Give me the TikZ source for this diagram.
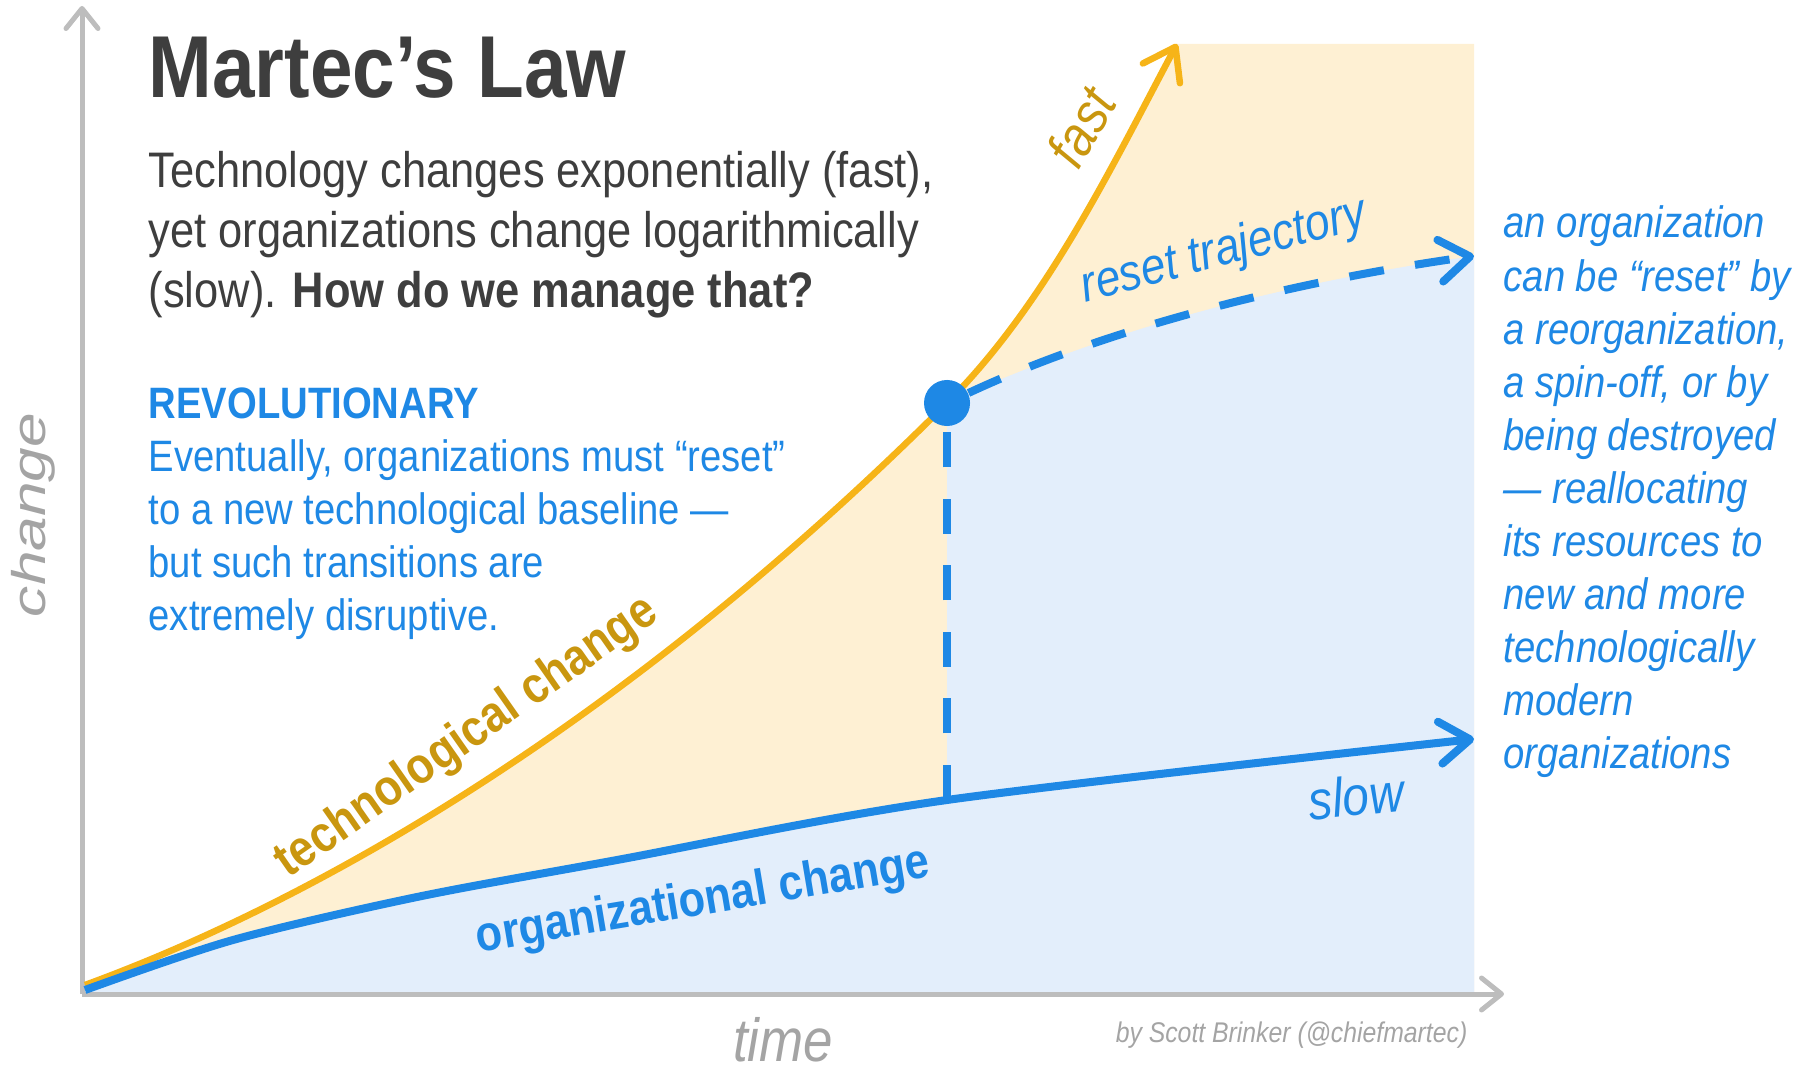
\documentclass[tikz,border=0pt]{standalone}
\usepackage{fontspec}
\setmainfont{Liberation Sans}[FakeStretch=0.87]
\newfontfamily\widefont{Liberation Sans}[FakeStretch=1.32]
\usetikzlibrary{arrows.meta}
\definecolor{axisgray}{HTML}{BDBDBD}
\definecolor{labelgray}{HTML}{A4A4A4}
\definecolor{textgray}{HTML}{3E3E3E}
\definecolor{techorange}{HTML}{F6B418}
\definecolor{techgold}{HTML}{C9960F}
\definecolor{orgblue}{HTML}{1E88E5}
\definecolor{techfill}{HTML}{FEF0D3}
\definecolor{orgfill}{HTML}{E3EEFB}
\begin{document}
\begin{tikzpicture}[x=0.01cm,y=-0.01cm,
		axisline/.style={draw=axisgray,line width=0.05cm,-{Straight Barb[length=0.2cm,width=0.32cm,round]}},
		curvetip/.style={-{Straight Barb[length=0.3cm,width=0.42cm,round]}},
		techline/.style={draw=techorange,line width=0.065cm,curvetip},
		orgline/.style={draw=orgblue,line width=0.08cm,curvetip},
		resetline/.style={draw=orgblue,line width=0.08cm,dash pattern=on 0.35cm off 0.315cm},
		txt/.style={inner sep=0pt,anchor=base west,align=left}]
	\useasboundingbox (0,0) rectangle (1810,1071);
	\coordinate (O) at (82,994);
	\coordinate (ytop) at (82,6);
	\coordinate (xend) at (1504,994);
	\coordinate (techstart) at (85,985);
	\coordinate (techend) at (1177,44);
	\coordinate (orgfoot) at (947,800);
	\coordinate (resetend) at (1474,256);
	\fill[techfill] (techstart) .. controls (320,899) and (629,721) .. (947,403) .. controls (1046,304) and (1111,168) .. (techend)
		-- (1474,44) -- (1474,994) -- (85,994) -- cycle;
	\fill[orgfill] plot[smooth] coordinates {(85,990) (233,940) (417,897) (617,860) (947,800) (1474,739)}
		-- (1474,994) -- (85,994) -- cycle;
	\fill[orgfill] (947,403) .. controls (1110,327) and (1296,281) .. (1474,256) -- (1474,994) -- (947,994) -- cycle;
	\draw[axisline] (O) -- (ytop);
	\draw[axisline] (O) -- (xend);
	\draw[techline] (techstart) .. controls (320,899) and (629,721) .. (947,403) .. controls (1046,304) and (1111,168) .. (techend);
	\draw[orgline] plot[smooth] coordinates {(85,990) (233,940) (417,897) (617,860) (947,800) (1474,739)};
	\node[circle,fill=orgblue,minimum size=0.46cm,inner sep=0pt] (dot) at (947,403) {};
	\draw[resetline] (orgfoot) -- (dot);
	\draw[resetline,curvetip] (dot) .. controls (1110,327) and (1296,281) .. (resetend);
	\node[txt,text=textgray,font=\fontsize{25}{30}\selectfont\bfseries] (title) at (148,98) {Martec’s Law};
	\node[txt,text=textgray,font=\fontsize{14.2}{17.1}\selectfont] (intro) at (148,308) {Technology changes exponentially (fast),\\yet organizations change logarithmically\\(slow). \textbf{How do we manage that?}};
	\node[txt,text=orgblue,font=\fontsize{12.5}{15.1}\selectfont] (revol) at (148,631) {\textbf{REVOLUTIONARY}\\Eventually, organizations must “reset”\\to a new technological baseline —\\but such transitions are\\extremely disruptive.};
	\node[txt,text=orgblue,font=\fontsize{12.5}{15.1}\selectfont\itshape] (resetnote) at (1503,769) {an organization\\can be “reset” by\\a reorganization,\\a spin-off, or by\\being destroyed\\— reallocating\\its resources to\\new and more\\technologically\\modern\\organizations};
	\node[text=labelgray,font=\widefont\itshape\fontsize{13.4}{15}\selectfont,rotate=90] (ylabel) at (33,515) {change};
	\node[text=labelgray,font=\itshape\fontsize{17.3}{20}\selectfont,anchor=base,inner sep=0pt] (xlabel) at (783,1061) {time};
	\node[text=labelgray,font=\itshape\fontsize{8.1}{10}\selectfont,anchor=base east,inner sep=0pt] (credit) at (1468,1042) {by Scott Brinker (@chiefmartec)};
	\node[text=techgold,font=\itshape\fontsize{16}{19}\selectfont,rotate=60] (fastlbl) at (1081,127) {fast};
	\node[text=orgblue,font=\itshape\fontsize{14.5}{17}\selectfont,rotate=15] (resetlbl) at (1224,252) {reset trajectory};
	\node[text=techgold,font=\bfseries\fontsize{14.5}{17}\selectfont,rotate=35] (techlbl) at (467,738) {technological change};
	\node[text=orgblue,font=\bfseries\fontsize{14.2}{17}\selectfont,rotate=9.5] (orglbl) at (703,902) {organizational change};
	\node[text=orgblue,font=\itshape\fontsize{15.6}{18}\selectfont,rotate=6] (slowlbl) at (1356,796) {slow};
\end{tikzpicture}
\end{document}
